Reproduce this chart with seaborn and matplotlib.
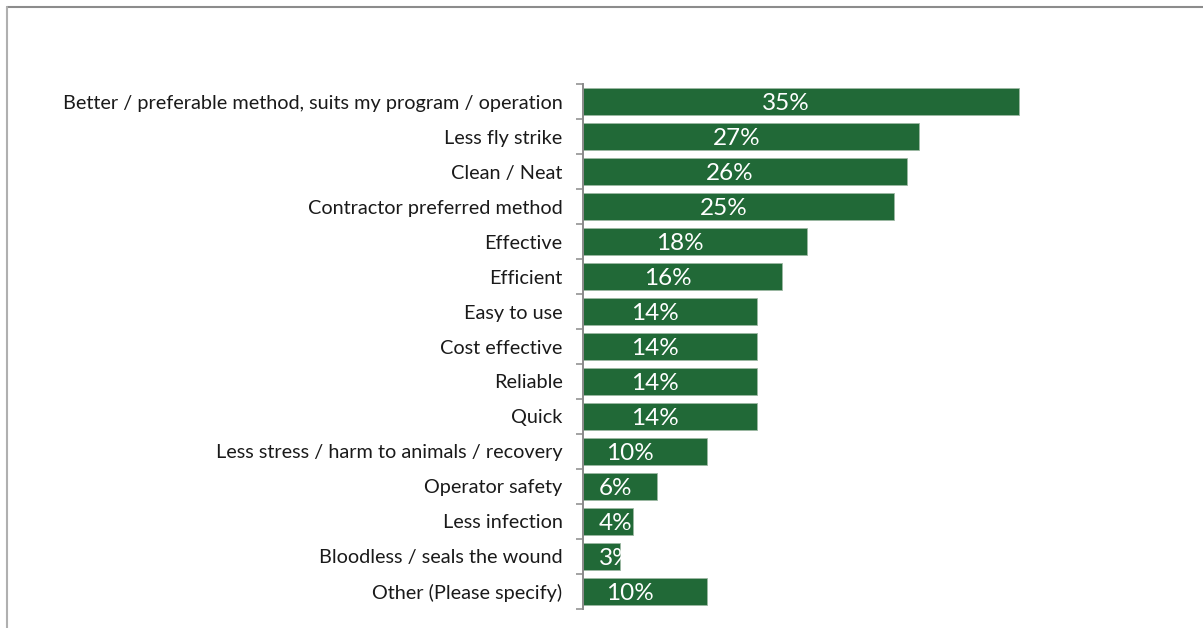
import matplotlib
matplotlib.use("Agg")
import matplotlib.pyplot as plt
from matplotlib.ticker import FixedLocator
from matplotlib.lines import Line2D
import seaborn as sns
import pandas as pd

categories = [
    "Better / preferable method, suits my program / operation",
    "Less fly strike",
    "Clean / Neat",
    "Contractor preferred method",
    "Effective",
    "Efficient",
    "Easy to use",
    "Cost effective",
    "Reliable",
    "Quick",
    "Less stress / harm to animals / recovery",
    "Operator safety",
    "Less infection",
    "Bloodless / seals the wound",
    "Other (Please specify)",
]
percent = [35, 27, 26, 25, 18, 16, 14, 14, 14, 14, 10, 6, 4, 3, 10]

BAR_GREEN = "#216937"
AXIS_GREY = "#8a8a8a"

sns.set_theme(style="white")
plt.rcParams["font.family"] = ["Lato", "DejaVu Sans"]

df = pd.DataFrame({"reason": categories, "pct": percent})

W, H = 1203, 628
fig = plt.figure(figsize=(W / 100, H / 100), dpi=100)
ax_left, ax_right = 582.7 / W, 1081.3 / W
ax_top, ax_bottom = 1 - 84.3 / H, 1 - 608.7 / H
ax = fig.add_axes([ax_left, ax_bottom, ax_right - ax_left, ax_top - ax_bottom])

sns.barplot(data=df, x="pct", y="reason", orient="h", color=BAR_GREEN,
            saturation=1, width=0.77, edgecolor="#9db8a3", linewidth=0.6,
            ax=ax)

ax.set_xlim(0, 40)
ax.set_ylim(len(categories) - 0.5, -0.5)
ax.set_xlabel("")
ax.set_ylabel("")
ax.set_xticks([])

for side in ["top", "right", "bottom"]:
    ax.spines[side].set_visible(False)
ax.spines["left"].set_color(AXIS_GREY)
ax.spines["left"].set_linewidth(1.4)

# category labels on major ticks, small tick marks between categories
ax.yaxis.set_minor_locator(FixedLocator([i - 0.5 for i in range(len(categories) + 1)]))
ax.tick_params(axis="y", which="major", length=0, pad=14.5, labelsize=14.3,
               labelcolor="#1a1a1a")
ax.tick_params(axis="y", which="minor", left=True, length=5, width=1.1,
               color=AXIS_GREY)

# value labels inside each bar, clipped to the bar itself
fig.canvas.draw()
renderer = fig.canvas.get_renderer()
px_per_unit = (ax.transData.transform((1, 0))[0] - ax.transData.transform((0, 0))[0])
min_left = 16.3 / px_per_unit
shift = 14.7 / px_per_unit
for bar, v in zip(ax.patches, percent):
    yc = bar.get_y() + bar.get_height() / 2
    t = ax.text(v / 2 - shift, yc, f"{v}%", color="white", fontsize=17.5,
                ha="center", va="center_baseline")
    bb = t.get_window_extent(renderer)
    left_data = ax.transData.inverted().transform((bb.x0, 0))[0]
    if left_data < min_left:
        t.set_position((min_left, yc))
        t.set_ha("left")
    t.set_clip_path(bar)

# thin frame along top and left edges of the figure
fig.add_artist(Line2D([6.5 / W, 1], [1 - 6.5 / H, 1 - 6.5 / H],
                      transform=fig.transFigure, color="#8c8c8c", lw=1.5))
fig.add_artist(Line2D([6.5 / W, 6.5 / W], [0, 1 - 6.5 / H],
                      transform=fig.transFigure, color="#b0b0b0", lw=1.5))

fig.savefig("out.png", dpi=100)
